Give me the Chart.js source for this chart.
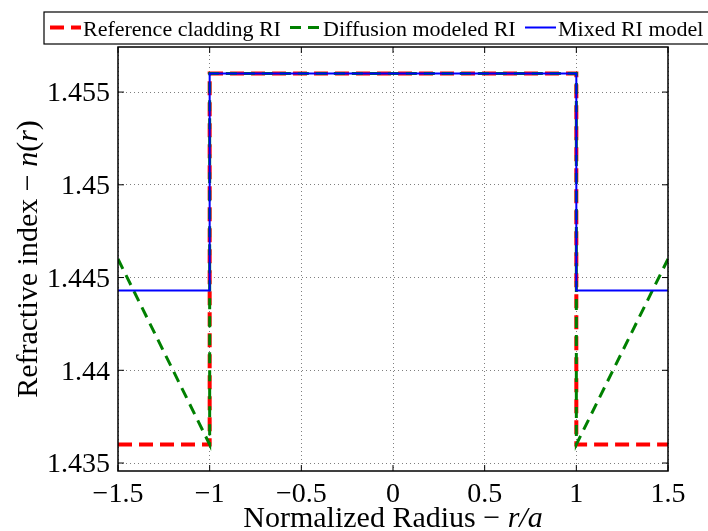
<!DOCTYPE html>
<html>
<head>
<meta charset="utf-8">
<script src="https://cdn.jsdelivr.net/npm/chart.js@4/dist/chart.umd.min.js"></script>
<style>
  html, body { margin: 0; padding: 0; background: #fff; }
  #wrap { width: 708px; height: 531px; }
</style>
</head>
<body>
<div id="wrap"><canvas id="c" width="708" height="531"></canvas></div>
<script>
// values
const radius = [-1.5, -1, -1, 1, 1, 1.5];
const referenceRI = [1.436, 1.436, 1.456, 1.456, 1.436, 1.436];
const diffusionRI = [1.446, 1.436, 1.456, 1.456, 1.436, 1.446];
const mixedRI = [1.4443, 1.4443, 1.456, 1.456, 1.4443, 1.4443];

const xTicks = [-1.5, -1, -0.5, 0, 0.5, 1, 1.5];
const xTickLabels = ['\u22121.5', '\u22121', '\u22120.5', '0', '0.5', '1', '1.5'];
const yTicks = [1.435, 1.44, 1.445, 1.45, 1.455];
const yTickLabels = ['1.435', '1.44', '1.445', '1.45', '1.455'];

const seriesNames = ['Reference cladding RI', 'Diffusion modeled RI', 'Mixed RI model'];

const SERIF = "'Liberation Serif', 'Times New Roman', serif";

function pts(ys) {
  return radius.map((x, i) => ({ x: x, y: ys[i] }));
}

// legend, axis titles, box and inward ticks (matlab look)
const decorations = {
  id: 'decorations',
  afterDraw(chart) {
    const ctx = chart.ctx;
    const a = chart.chartArea;
    const xs = chart.scales.x, ys = chart.scales.y;
    ctx.save();

    // box
    ctx.strokeStyle = '#000';
    ctx.lineWidth = 1.5;
    ctx.setLineDash([]);
    ctx.strokeRect(a.left, a.top, a.right - a.left, a.bottom - a.top);

    // inward ticks
    ctx.lineWidth = 1;
    ctx.beginPath();
    xTicks.forEach(v => {
      const px = xs.getPixelForValue(v);
      ctx.moveTo(px, a.bottom); ctx.lineTo(px, a.bottom - 6);
      ctx.moveTo(px, a.top); ctx.lineTo(px, a.top + 6);
    });
    yTicks.forEach(v => {
      const py = ys.getPixelForValue(v);
      ctx.moveTo(a.left, py); ctx.lineTo(a.left + 6, py);
      ctx.moveTo(a.right, py); ctx.lineTo(a.right - 6, py);
    });
    ctx.stroke();

    // axis titles with italic parts
    function drawMixed(parts, size, cx, baseY) {
      let w = 0;
      parts.forEach(p => {
        ctx.font = (p[1] ? 'italic ' : '') + size + 'px ' + SERIF;
        w += ctx.measureText(p[0]).width;
      });
      let x = cx - w / 2;
      ctx.textBaseline = 'alphabetic';
      ctx.textAlign = 'left';
      ctx.fillStyle = '#000';
      parts.forEach(p => {
        ctx.font = (p[1] ? 'italic ' : '') + size + 'px ' + SERIF;
        ctx.fillText(p[0], x, baseY);
        x += ctx.measureText(p[0]).width;
      });
    }
    drawMixed([['Normalized Radius \u2212 ', false], ['r/a', true]], 30, (a.left + a.right) / 2, 527);
    ctx.save();
    ctx.translate(37, (a.top + a.bottom) / 2);
    ctx.rotate(-Math.PI / 2);
    drawMixed([['Refractive index \u2212 ', false], ['n', true], ['(', false], ['r', true], [')', false]], 30, 0, 0);
    ctx.restore();

    // legend box
    ctx.fillStyle = '#fff';
    ctx.fillRect(44, 12, 700, 32);
    ctx.strokeStyle = '#000';
    ctx.lineWidth = 1.2;
    ctx.strokeRect(44, 12, 700, 32);
    const starts = [50, 290, 525];
    ctx.font = '22px ' + SERIF;
    ctx.textBaseline = 'alphabetic';
    ctx.textAlign = 'left';
    chart.data.datasets.forEach((ds, i) => {
      const x0 = starts[i];
      ctx.strokeStyle = ds.borderColor;
      ctx.lineWidth = ds.borderWidth;
      ctx.setLineDash(ds.borderDash || []);
      ctx.beginPath();
      ctx.moveTo(x0, 27.5);
      ctx.lineTo(x0 + 31, 27.5);
      ctx.stroke();
      ctx.setLineDash([]);
      ctx.fillStyle = '#000';
      ctx.fillText(ds.label, x0 + 33, 35.5);
    });
    ctx.restore();
  }
};

new Chart(document.getElementById('c'), {
  type: 'scatter',
  data: {
    datasets: [
      {
        label: seriesNames[0],
        data: pts(referenceRI),
        showLine: true,
        borderColor: '#ff0000',
        borderWidth: 4,
        borderDash: [14, 7],
        pointRadius: 0,
        order: 2
      },
      {
        label: seriesNames[1],
        data: pts(diffusionRI),
        showLine: true,
        borderColor: '#008000',
        borderWidth: 3,
        borderDash: [11, 7],
        pointRadius: 0,
        order: 1
      },
      {
        label: seriesNames[2],
        data: pts(mixedRI),
        showLine: true,
        borderColor: '#0000ff',
        borderWidth: 2,
        pointRadius: 0,
        order: 0
      }
    ]
  },
  options: {
    responsive: false,
    animation: false,
    layout: { padding: { left: 0, top: 47, right: 40, bottom: 0 } },
    plugins: {
      legend: { display: false },
      tooltip: { enabled: false }
    },
    scales: {
      x: {
        type: 'linear',
        min: -1.5,
        max: 1.5,
        afterBuildTicks: s => { s.ticks = xTicks.map(v => ({ value: v })); },
        afterFit: s => { s.height = 60; },
        ticks: {
          callback: (v, i) => xTickLabels[i],
          font: { family: SERIF, size: 28 },
          color: '#000',
          padding: 7,
          maxRotation: 0,
          autoSkip: false
        },
        grid: { color: 'rgba(0,0,0,0.5)', lineWidth: 1, drawTicks: false },
        border: { display: false, dash: [1, 3] }
      },
      y: {
        type: 'linear',
        min: 1.43457,
        max: 1.45743,
        afterBuildTicks: s => { s.ticks = yTicks.map(v => ({ value: v })); },
        afterFit: s => { s.width = 118; },
        ticks: {
          callback: (v, i) => yTickLabels[i],
          font: { family: SERIF, size: 28 },
          color: '#000',
          padding: 8,
          labelOffset: 2,
          autoSkip: false
        },
        grid: { color: 'rgba(0,0,0,0.5)', lineWidth: 1, drawTicks: false },
        border: { display: false, dash: [1, 3] }
      }
    }
  },
  plugins: [decorations]
});
</script>
</body>
</html>
